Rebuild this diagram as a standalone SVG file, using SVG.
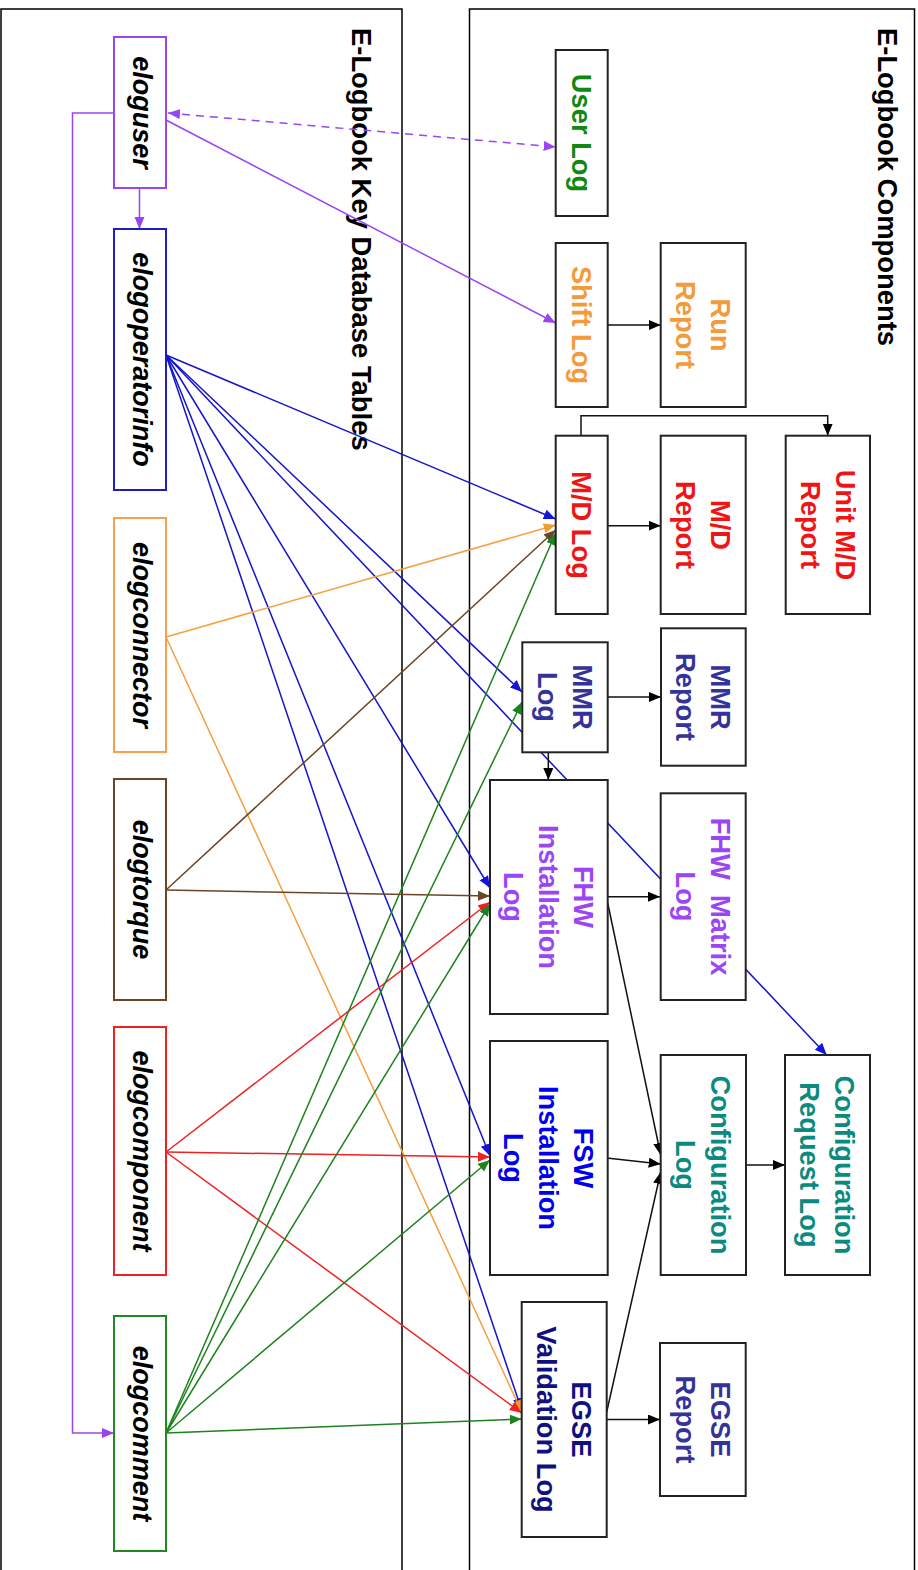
<svg xmlns="http://www.w3.org/2000/svg" width="918" height="1570" viewBox="0 0 918 1570">
<style>
.cont{fill:none;stroke:#000;stroke-width:1.5}
.ln{fill:#fff;stroke-width:2}
.rn{fill:#fff;stroke:#222;stroke-width:2}
.lt{font-family:"Liberation Sans",Arial,sans-serif;font-weight:bold;font-style:italic;font-size:27px;fill:#000}
.rt{font-family:"Liberation Sans",Arial,sans-serif;font-weight:bold;font-size:27.3px}
.title{font-family:"Liberation Sans",Arial,sans-serif;font-weight:bold;font-size:27.4px;fill:#000}
.c{fill:none;stroke-width:1.5}
.pu{stroke:#9a45f2}
.bl{stroke:#1414c8}
.or{stroke:#f5a040}
.br{stroke:#6b4526}
.re{stroke:#ee2222}
.gr{stroke:#1e821e}
.bk{stroke:#111}
</style>
<defs>
<marker id="aPu" markerUnits="userSpaceOnUse" markerWidth="13" markerHeight="11" refX="12" refY="5" orient="auto-start-reverse"><path d="M0,0 L12,5 L0,10 z" fill="#9a45f2"/></marker>
<marker id="aBl" markerUnits="userSpaceOnUse" markerWidth="13" markerHeight="11" refX="12" refY="5" orient="auto"><path d="M0,0 L12,5 L0,10 z" fill="#1414e0"/></marker>
<marker id="aOr" markerUnits="userSpaceOnUse" markerWidth="13" markerHeight="11" refX="12" refY="5" orient="auto"><path d="M0,0 L12,5 L0,10 z" fill="#f59a30"/></marker>
<marker id="aBr" markerUnits="userSpaceOnUse" markerWidth="13" markerHeight="11" refX="12" refY="5" orient="auto"><path d="M0,0 L12,5 L0,10 z" fill="#6b4526"/></marker>
<marker id="aRe" markerUnits="userSpaceOnUse" markerWidth="13" markerHeight="11" refX="12" refY="5" orient="auto"><path d="M0,0 L12,5 L0,10 z" fill="#ee2222"/></marker>
<marker id="aGr" markerUnits="userSpaceOnUse" markerWidth="13" markerHeight="11" refX="12" refY="5" orient="auto"><path d="M0,0 L12,5 L0,10 z" fill="#1e821e"/></marker>
<marker id="aBk" markerUnits="userSpaceOnUse" markerWidth="13" markerHeight="11" refX="12" refY="5" orient="auto"><path d="M0,0 L12,5 L0,10 z" fill="#000"/></marker>
</defs>
<rect width="918" height="1570" fill="#fff"/>
<g id="containers">
<rect class="cont" x="1" y="9" width="401" height="1600"/>
<rect class="cont" x="469.5" y="9" width="445" height="1600"/>
<text class="title" transform="translate(352,28) rotate(90)">E-Logbook Key Database Tables</text>
<text class="title" transform="translate(878,28) rotate(90)">E-Logbook Components</text>
</g>
<g id="connectors">
<line class="c pu" x1="168" y1="113" x2="555.7" y2="147" stroke-width="2" stroke-dasharray="8,6" marker-start="url(#aPu)" marker-end="url(#aPu)"/>
<line class="c pu" x1="166" y1="120" x2="555.7" y2="323" marker-end="url(#aPu)"/>
<line class="c pu" x1="139.5" y1="188" x2="139.5" y2="229" marker-end="url(#aPu)"/>
<polyline class="c pu" points="114,113 72.5,113 72.5,1433 114,1433" marker-end="url(#aPu)"/>
<line class="c bl" x1="166" y1="355" x2="826.7" y2="1055" marker-end="url(#aBl)"/>
<line class="c bl" x1="166" y1="355" x2="555.7" y2="519" marker-end="url(#aBl)"/>
<line class="c bl" x1="166" y1="355" x2="522" y2="692" marker-end="url(#aBl)"/>
<line class="c bl" x1="166" y1="355" x2="490" y2="888" marker-end="url(#aBl)"/>
<line class="c bl" x1="166" y1="355" x2="490" y2="1156" marker-end="url(#aBl)"/>
<line class="c bl" x1="166" y1="355" x2="521.7" y2="1410" marker-end="url(#aBl)"/>
<line class="c or" x1="166" y1="637" x2="555.7" y2="525" marker-end="url(#aOr)"/>
<line class="c or" x1="166" y1="637" x2="521.7" y2="1412" marker-end="url(#aOr)"/>
<line class="c br" x1="166" y1="890" x2="555.7" y2="530" marker-end="url(#aBr)"/>
<line class="c br" x1="166" y1="890" x2="490" y2="896" marker-end="url(#aBr)"/>
<line class="c re" x1="166" y1="1152" x2="490" y2="902" marker-end="url(#aRe)"/>
<line class="c re" x1="166" y1="1152" x2="490" y2="1157" marker-end="url(#aRe)"/>
<line class="c re" x1="166" y1="1152" x2="521.7" y2="1413" marker-end="url(#aRe)"/>
<line class="c gr" x1="166" y1="1433" x2="555.7" y2="533" marker-end="url(#aGr)"/>
<line class="c gr" x1="166" y1="1433" x2="522" y2="702" marker-end="url(#aGr)"/>
<line class="c gr" x1="166" y1="1433" x2="490" y2="904" marker-end="url(#aGr)"/>
<line class="c gr" x1="166" y1="1433" x2="490" y2="1160" marker-end="url(#aGr)"/>
<line class="c gr" x1="166" y1="1433" x2="521.7" y2="1419" marker-end="url(#aGr)"/>
<line class="c bk" x1="607.7" y1="325" x2="660.7" y2="325" marker-end="url(#aBk)"/>
<line class="c bk" x1="607.7" y1="525.7" x2="660.7" y2="525.7" marker-end="url(#aBk)"/>
<polyline class="c bk" points="581,435.7 581,415.7 827.7,415.7 827.7,435.7" marker-end="url(#aBk)"/>
<line class="c bk" x1="607.7" y1="697" x2="661" y2="697" marker-end="url(#aBk)"/>
<line class="c bk" x1="548.3" y1="752.3" x2="548.3" y2="780" marker-end="url(#aBk)"/>
<line class="c bk" x1="607.7" y1="896.7" x2="660" y2="896.7" marker-end="url(#aBk)"/>
<line class="c bk" x1="607.7" y1="903" x2="660.7" y2="1155" marker-end="url(#aBk)"/>
<line class="c bk" x1="606.7" y1="1158" x2="660.7" y2="1164" marker-end="url(#aBk)"/>
<line class="c bk" x1="606.7" y1="1412" x2="660.7" y2="1172" marker-end="url(#aBk)"/>
<line class="c bk" x1="746" y1="1165" x2="785" y2="1165" marker-end="url(#aBk)"/>
<line class="c bk" x1="606.7" y1="1419.5" x2="660" y2="1419.5" marker-end="url(#aBk)"/>
</g>
<g id="eloguser"><rect class="ln" x="114" y="37" width="52" height="151" stroke="#9a45f2"/><text class="lt" text-anchor="middle" transform="translate(133,112.5) rotate(90)">eloguser</text></g>
<g id="elogoperatorinfo"><rect class="ln" x="114" y="229" width="52" height="261" stroke="#1c1cc0"/><text class="lt" text-anchor="middle" transform="translate(133,359.5) rotate(90)">elogoperatorinfo</text></g>
<g id="elogconnector"><rect class="ln" x="114" y="518" width="52" height="234" stroke="#f5a050"/><text class="lt" text-anchor="middle" transform="translate(133,635) rotate(90)">elogconnector</text></g>
<g id="elogtorque"><rect class="ln" x="114" y="779" width="52" height="221" stroke="#6b4526"/><text class="lt" text-anchor="middle" transform="translate(133,889.5) rotate(90)">elogtorque</text></g>
<g id="elogcomponent"><rect class="ln" x="114" y="1027" width="52" height="248" stroke="#ee2222"/><text class="lt" text-anchor="middle" transform="translate(133,1151) rotate(90)">elogcomponent</text></g>
<g id="elogcomment"><rect class="ln" x="114" y="1316" width="52" height="235" stroke="#228822"/><text class="lt" text-anchor="middle" transform="translate(133,1433.5) rotate(90)">elogcomment</text></g>

<g id="userlog"><rect class="rn" x="555.7" y="50" width="52" height="166"/><text class="rt" fill="#118811" text-anchor="middle" transform="translate(572,133) rotate(90)">User Log</text></g>
<g id="shiftlog"><rect class="rn" x="555.7" y="243" width="52" height="164"/><text class="rt" fill="#f39a3a" text-anchor="middle" transform="translate(572,325) rotate(90)">Shift Log</text></g>
<g id="runreport"><rect class="rn" x="660.7" y="243" width="85" height="164"/><text class="rt" fill="#f39a3a" text-anchor="middle" transform="translate(711,325) rotate(90)"><tspan x="0" y="0">Run</tspan><tspan x="0" y="35">Report</tspan></text></g>
<g id="mdlog"><rect class="rn" x="555.7" y="435.7" width="52" height="178.3"/><text class="rt" fill="#f01515" text-anchor="middle" transform="translate(572,525) rotate(90)">M/D Log</text></g>
<g id="mdreport"><rect class="rn" x="660.7" y="435.7" width="85" height="178.3"/><text class="rt" fill="#f01515" text-anchor="middle" transform="translate(711,525) rotate(90)"><tspan x="0" y="0">M/D</tspan><tspan x="0" y="35">Report</tspan></text></g>
<g id="unitmdreport"><rect class="rn" x="785.7" y="435.7" width="84.3" height="178.3"/><text class="rt" fill="#f01515" text-anchor="middle" transform="translate(835.5,525) rotate(90)"><tspan x="0" y="0">Unit M/D</tspan><tspan x="0" y="35">Report</tspan></text></g>
<g id="mmrlog"><rect class="rn" x="522.3" y="642.3" width="85.4" height="110"/><text class="rt" fill="#333399" text-anchor="middle" transform="translate(572.7,697) rotate(90)"><tspan x="0" y="0">MMR</tspan><tspan x="0" y="35">Log</tspan></text></g>
<g id="mmrreport"><rect class="rn" x="661" y="628.3" width="84.7" height="137.4"/><text class="rt" fill="#333399" text-anchor="middle" transform="translate(711,697) rotate(90)"><tspan x="0" y="0">MMR</tspan><tspan x="0" y="35">Report</tspan></text></g>
<g id="fhwinstlog"><rect class="rn" x="490" y="780" width="117.7" height="234"/><text class="rt" fill="#9b45f5" text-anchor="middle" transform="translate(574,897) rotate(90)"><tspan x="0" y="0">FHW</tspan><tspan x="0" y="35">Installation</tspan><tspan x="0" y="70">Log</tspan></text></g>
<g id="fhwmatrixlog"><rect class="rn" x="660.7" y="793.3" width="85" height="206.7"/><text class="rt" fill="#9b45f5" text-anchor="middle" transform="translate(711,896.5) rotate(90)"><tspan x="0" y="0" style="white-space:pre">FHW  Matrix</tspan><tspan x="0" y="35">Log</tspan></text></g>
<g id="fswinstlog"><rect class="rn" x="490" y="1041" width="117.7" height="234"/><text class="rt" fill="#0000ee" text-anchor="middle" transform="translate(574,1158) rotate(90)"><tspan x="0" y="0">FSW</tspan><tspan x="0" y="35">Installation</tspan><tspan x="0" y="70">Log</tspan></text></g>
<g id="configlog"><rect class="rn" x="660.7" y="1055" width="85.3" height="220"/><text class="rt" fill="#0a8a80" text-anchor="middle" transform="translate(711,1165) rotate(90)"><tspan x="0" y="0">Configuration</tspan><tspan x="0" y="35">Log</tspan></text></g>
<g id="configreqlog"><rect class="rn" x="785" y="1055" width="85" height="220"/><text class="rt" fill="#0a8a80" text-anchor="middle" transform="translate(835.3,1165) rotate(90)"><tspan x="0" y="0">Configuration</tspan><tspan x="0" y="35">Request Log</tspan></text></g>
<g id="egsevallog"><rect class="rn" x="521.7" y="1302" width="85" height="235"/><text class="rt" fill="#101080" text-anchor="middle" transform="translate(572,1419.5) rotate(90)"><tspan x="0" y="0">EGSE</tspan><tspan x="0" y="35">Validation Log</tspan></text></g>
<g id="egsereport"><rect class="rn" x="660" y="1343" width="85.7" height="153"/><text class="rt" fill="#333399" text-anchor="middle" transform="translate(711,1419.5) rotate(90)"><tspan x="0" y="0">EGSE</tspan><tspan x="0" y="35">Report</tspan></text></g>
</svg>
